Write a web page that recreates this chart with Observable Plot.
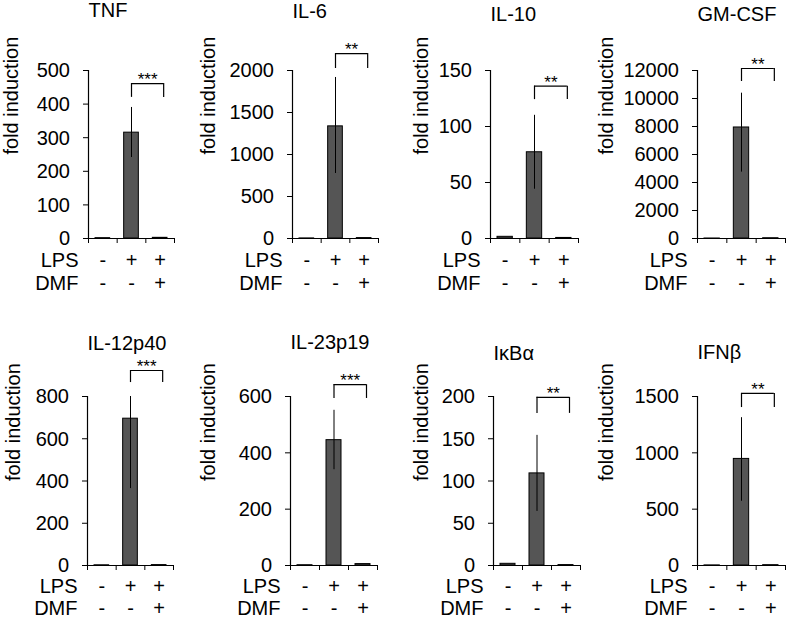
<!DOCTYPE html>
<html><head><meta charset="utf-8">
<script src="https://cdn.jsdelivr.net/npm/d3@7"></script>
<script src="https://cdn.jsdelivr.net/npm/@observablehq/plot@0.6"></script>
<style>
body{margin:0;background:#fff;}
#chart{position:relative;width:787px;height:618px;overflow:hidden;background:#fff;}
#chart svg{position:absolute;overflow:visible;max-width:none;}
</style></head><body><div id="chart"></div>
<script>
// ---- data ----
const genes = ["TNF", "IL-6", "IL-10", "GM-CSF", "IL-12p40", "IL-23p19", "IκBα", "IFNβ"];
const groups = ["ctrl", "LPS", "LPS+DMF"];
const lpsSigns = ["-", "+", "+"];
const dmfSigns = ["-", "-", "+"];
const ctrlMean = [1, 1, 1.5, 1, 1, 1, 2, 1];
const lpsMean  = [315, 1335, 77, 7930, 695, 445, 109, 946];
const lpsUpper = [390, 1917, 110, 10380, 800, 551, 154, 1312];
const lpsLower = [241, 774, 44, 4740, 364, 340, 64, 570];
const dmfMean  = [2, 5, 0.5, 20, 2, 5, 0.5, 3];
const yMax  = [500, 2000, 150, 12000, 800, 600, 200, 1500];
const yStep = [100, 500, 50, 2000, 200, 200, 50, 500];
const stars = ["***", "**", "**", "**", "***", "***", "**", "**"];
const bracketTop    = [461, 2202, 136, 12143, 923, 642, 199, 1527];
const bracketBottom = [420, 2024, 124, 11214, 866, 593, 180, 1402];

// ---- layout (pixels) ----
const axisLeft   = [88, 292, 490, 697, 87, 290, 493, 697];
const frameWidth = [86, 86, 88, 88, 86, 87, 87, 88];
const rowTop  = [70, 396];
const rowZero = [238, 565];
const svgTop  = [0, 318];
const lpsRowDy = [22, 21.5];
const dmfRowDy = [45.5, 43.5];
const labelOffset = [85, 92, 77, 99, 82, 90, 80, 99];
const titleY = [10, 11, 14, 14, 343, 342, 353, 352];

const font = "'Liberation Sans', Arial, Helvetica, sans-serif";
const container = document.getElementById("chart");

genes.forEach((gene, g) => {
  const r = g < 4 ? 0 : 1;
  const mLeft = 102, mRight = 5, mBottom = r === 0 ? 60 : 53;
  const mTop = rowTop[r] - svgTop[r];
  const fh = rowZero[r] - rowTop[r];
  const rows = groups.map((name, i) => ({
    i, name,
    mean: [ctrlMean[g], lpsMean[g], dmfMean[g]][i],
    upper: i === 1 ? lpsUpper[g] : null,
    lower: i === 1 ? lpsLower[g] : null,
    lps: lpsSigns[i], dmf: dmfSigns[i]
  }));
  const ticks = d3.range(0, yMax[g] + yStep[g] / 2, yStep[g]);
  const lpsIdx = 1, dmfIdx = 2;
  const svg = Plot.plot({
    width: mLeft + frameWidth[g] + mRight,
    height: mTop + fh + mBottom,
    marginLeft: mLeft, marginRight: mRight, marginTop: mTop, marginBottom: mBottom,
    style: {fontFamily: font, fontSize: "20px", color: "#000", background: "transparent"},
    x: {domain: [0, groups.length], axis: null},
    y: {domain: [0, yMax[g]], axis: null},
    marks: [
      Plot.rectY(rows, {x1: d => d.i, x2: d => d.i + 1, y: "mean", insetLeft: 7, insetRight: 7,
        fill: "#555555", stroke: "#000", strokeWidth: 1}),
      Plot.ruleX(rows.filter(d => d.upper != null), {x: d => d.i + 0.5, y1: "lower", y2: "upper", stroke: "#000", strokeWidth: 1}),
      Plot.ruleX([0], {stroke: "#000", strokeWidth: 1.2}),
      Plot.ruleY([0], {stroke: "#000", strokeWidth: 1.2}),
      Plot.axisY({ticks, tickSize: 5, tickFormat: () => "", label: null, stroke: "#000"}),
      Plot.axisY({ticks, tickSize: 0, tickPadding: 18.5, dy: 0.5, label: null, tickFormat: d => String(d), fontSize: 20, fill: "#000"}),
      Plot.axisX({ticks: d3.range(0, groups.length + 1), tickSize: 5, tickFormat: () => "", label: null, stroke: "#000"}),
      Plot.text(rows, {x: d => d.i + 0.5, text: "lps", frameAnchor: "bottom", lineAnchor: "middle", dy: lpsRowDy[r], fontSize: 20, fill: "#000"}),
      Plot.text(rows, {x: d => d.i + 0.5, text: "dmf", frameAnchor: "bottom", lineAnchor: "middle", dy: dmfRowDy[r], fontSize: 20, fill: "#000"}),
      Plot.text(["LPS"], {frameAnchor: "bottom-left", textAnchor: "end", lineAnchor: "middle", dx: -10, dy: lpsRowDy[r], fontSize: 20, fill: "#000"}),
      Plot.text(["DMF"], {frameAnchor: "bottom-left", textAnchor: "end", lineAnchor: "middle", dx: -10, dy: dmfRowDy[r], fontSize: 20, fill: "#000"}),
      Plot.text(["fold induction"], {frameAnchor: "left", rotate: -90, lineAnchor: "top", dx: -labelOffset[g], fontSize: 20, fill: "#000"}),
      Plot.text([gene], {frameAnchor: "top-left", textAnchor: "start", lineAnchor: "middle", dy: titleY[g] - rowTop[r], fontSize: 20, fill: "#000"}),
      // significance bracket between LPS and LPS+DMF
      Plot.ruleY([bracketTop[g]], {x1: lpsIdx + 0.5, x2: dmfIdx + 0.5, insetRight: -3.5, stroke: "#000", strokeWidth: 1.2}),
      Plot.ruleX([lpsIdx + 0.5], {y1: bracketBottom[g], y2: bracketTop[g], stroke: "#000", strokeWidth: 1.2}),
      Plot.ruleX([dmfIdx + 0.5], {y1: bracketBottom[g], y2: bracketTop[g], dx: 3.5, stroke: "#000", strokeWidth: 1.2}),
      Plot.text([stars[g]], {x: (lpsIdx + dmfIdx + 1) / 2, y: bracketTop[g], dx: 1.75, dy: -4, lineAnchor: "middle", fontSize: 17, fill: "#000"})
    ]
  });
  svg.style.left = (axisLeft[g] - mLeft) + "px";
  svg.style.top = svgTop[r] + "px";
  container.appendChild(svg);
});
</script></body></html>
